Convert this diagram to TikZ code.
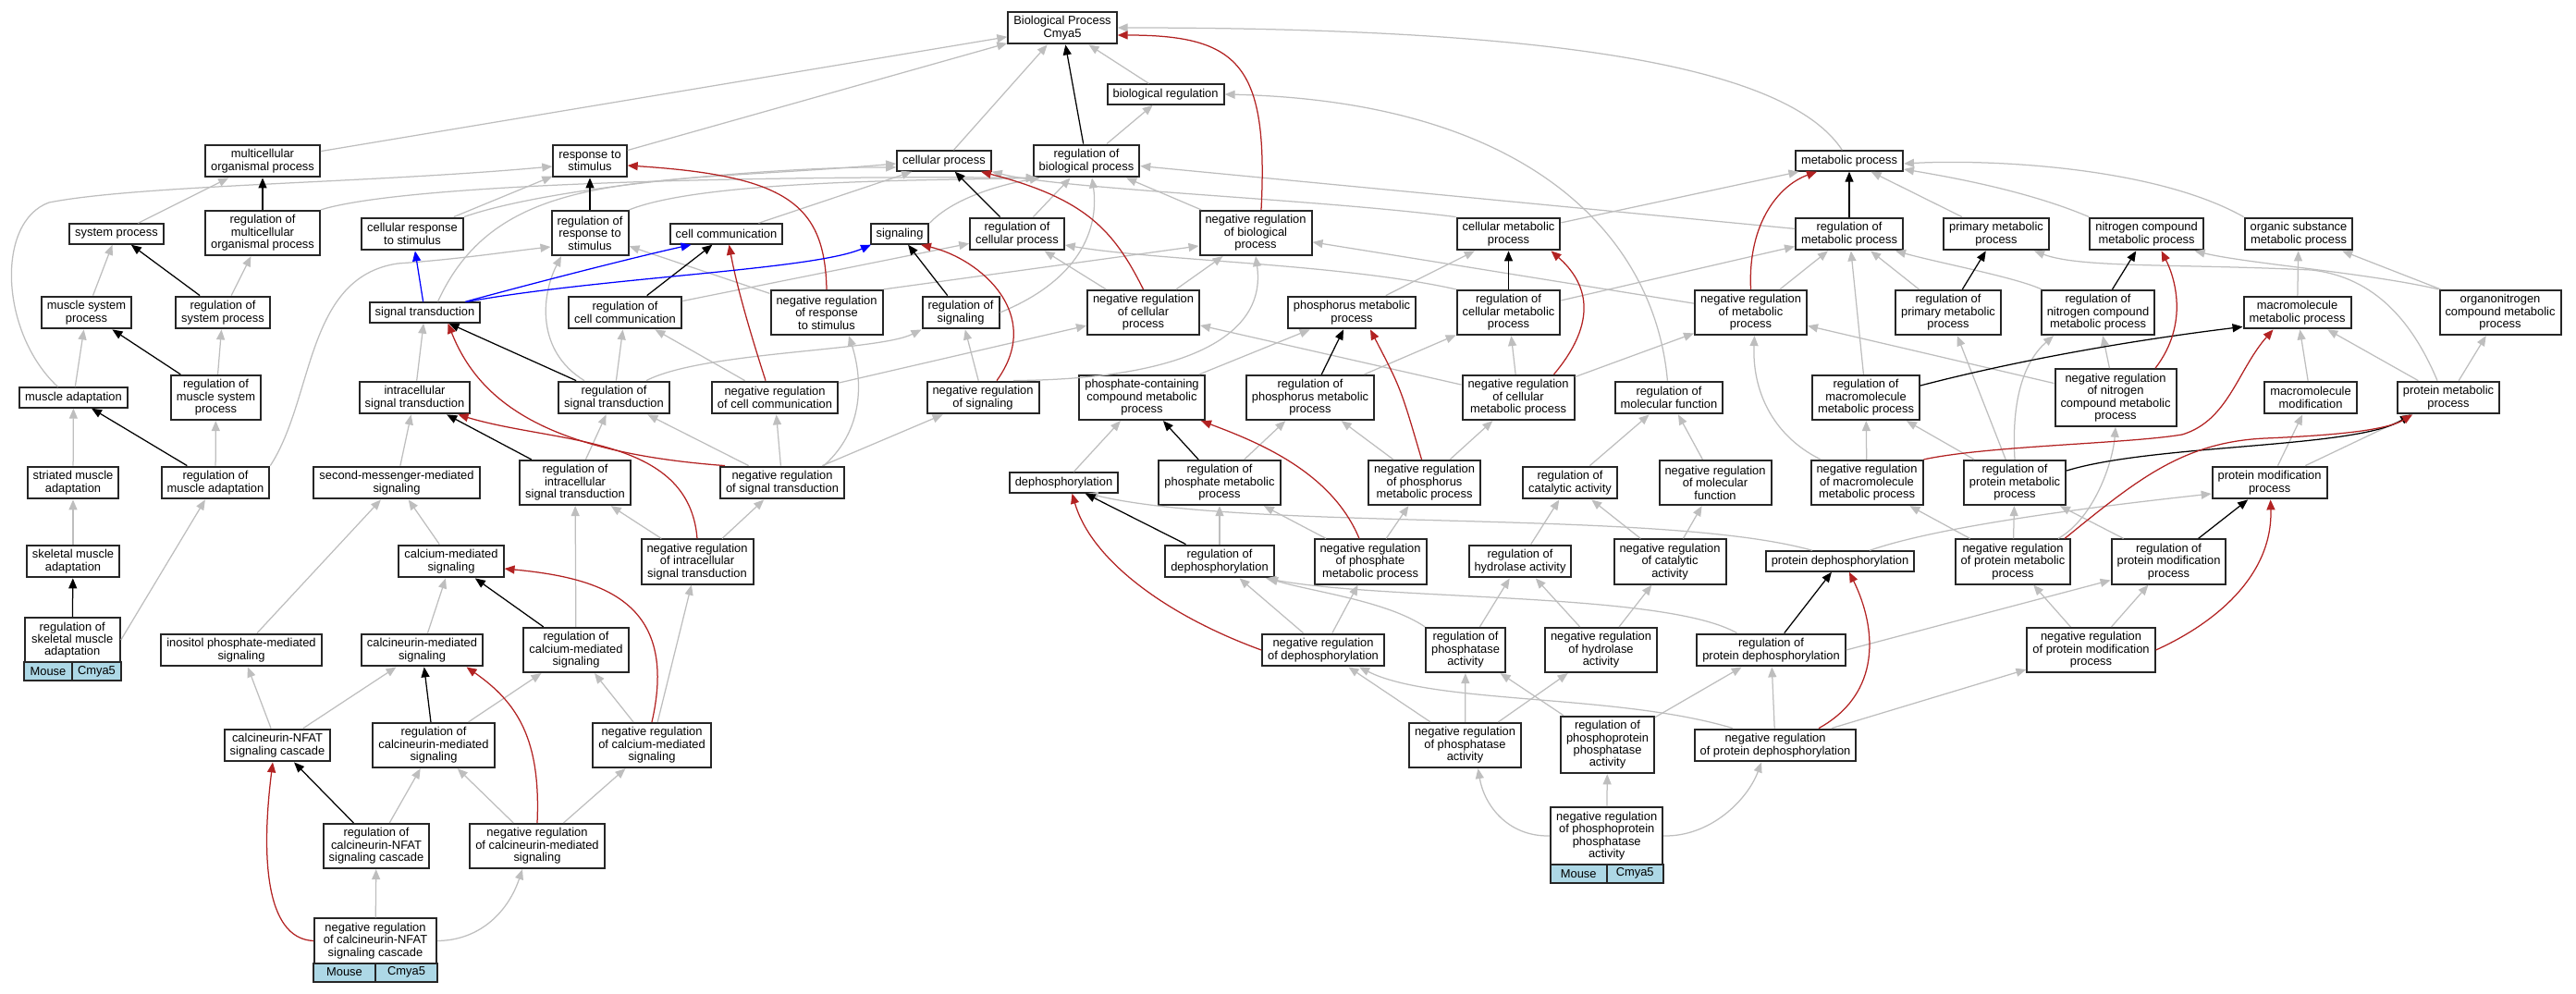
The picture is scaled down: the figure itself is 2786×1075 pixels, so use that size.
\documentclass[tikz,border=0pt]{standalone}
\usepackage{fontspec}
\setmainfont{Liberation Sans}
\usepackage{tikz}
\usetikzlibrary{arrows.meta}
\usetikzlibrary{positioning}
\definecolor{isagray}{RGB}{190,190,190}
\definecolor{negred}{RGB}{178,34,34}
\definecolor{partblue}{RGB}{0,0,255}
\definecolor{hitblue}{RGB}{173,216,230}
\newcommand\termfont{\fontsize{12.9}{13.4}\selectfont}
\tikzset{
	term/.style={draw=black!85, line width=2pt, fill=white, align=center,
		inner xsep=6pt, inner ysep=2pt, minimum height=21.4pt, font=\termfont},
	nlines/.style={minimum height=8pt+13.4pt*#1},
	hit/.style={term, fill=hitblue, minimum height=20pt, inner xsep=0pt},
	link/.style={line width=1.25pt, -{Triangle[length=11pt,width=9pt]}},
	is a/.style={link, draw=isagray},
	regulates/.style={link, draw=black},
	negatively regulates/.style={link, draw=negred},
	part of/.style={link, draw=partblue}
}

\begin{document}
\begin{tikzpicture}[x=1pt, y=-1pt]
	\useasboundingbox (0,0) rectangle (2786,1075);

	% top
	\node[term, nlines=2] (bp) at (1149,30) {Biological Process\\Cmya5};
	\node[term] (br) at (1260.6,102) {biological regulation};
	\node[term, nlines=2] (mop) at (284,174) {multicellular\\organismal process};
	\node[term, nlines=2] (rs) at (638,174) {response to\\stimulus};
	\node[term] (cp) at (1021,174) {cellular process};
	\node[term, nlines=2] (rbp) at (1175,174) {regulation of\\biological process};
	\node[term] (mp) at (2000,174) {metabolic process};

	\node[term] (sp) at (126,253) {system process};
	\node[term, nlines=3] (rmop) at (284,252) {regulation of\\multicellular\\organismal process};
	\node[term, nlines=2] (crs) at (446,253) {cellular response\\to stimulus};
	\node[term, nlines=3] (rrs) at (638,252) {regulation of\\response to\\stimulus};
	\node[term] (cc) at (785.5,253) {cell communication};
	\node[term] (sig) at (973,253) {signaling};
	\node[term, nlines=2] (rcp) at (1100,253) {regulation of\\cellular process};
	\node[term, nlines=3] (nrbp) at (1358,252) {negative regulation\\of biological\\process};
	\node[term, nlines=2] (cmp) at (1631.5,253) {cellular metabolic\\process};
	\node[term, nlines=2] (rmp) at (2000,253) {regulation of\\metabolic process};
	\node[term, nlines=2] (pmp) at (2159,253) {primary metabolic\\process};
	\node[term, nlines=2] (ncmp) at (2321.6,253) {nitrogen compound\\metabolic process};
	\node[term, nlines=2] (osmp) at (2486,253) {organic substance\\metabolic process};

	\node[term, nlines=2] (msp) at (93.5,338) {muscle system\\process};
	\node[term, nlines=2] (rsp) at (241,338) {regulation of\\system process};
	\node[term] (st) at (459.5,338) {signal transduction};
	\node[term, nlines=2] (rcc) at (676,338) {regulation of\\cell communication};
	\node[term, nlines=3] (nrrs) at (894,338) {negative regulation\\of response\\to stimulus};
	\node[term, nlines=2] (rsig) at (1039,338) {regulation of\\signaling};
	\node[term, nlines=3] (nrcp) at (1236.5,338) {negative regulation\\of cellular\\process};
	\node[term, nlines=2] (phmp) at (1462,338) {phosphorus metabolic\\process};
	\node[term, nlines=3] (rcmp) at (1631.5,338) {regulation of\\cellular metabolic\\process};
	\node[term, nlines=3] (nrmp) at (1893.5,338) {negative regulation\\of metabolic\\process};
	\node[term, nlines=3] (rprmp) at (2107,338) {regulation of\\primary metabolic\\process};
	\node[term, nlines=3] (rncmp) at (2269,338) {regulation of\\nitrogen compound\\metabolic process};
	\node[term, nlines=2] (mmp) at (2484.5,338) {macromolecule\\metabolic process};
	\node[term, nlines=3] (oncmp) at (2704,338) {organonitrogen\\compound metabolic\\process};

	\node[term] (ma) at (79.5,430) {muscle adaptation};
	\node[term, nlines=3] (rmsp) at (233.5,430) {regulation of\\muscle system\\process};
	\node[term, nlines=2] (ist) at (448.5,430) {intracellular\\signal transduction};
	\node[term, nlines=2] (rst) at (664,430) {regulation of\\signal transduction};
	\node[term, nlines=2] (nrcc) at (838,430) {negative regulation\\of cell communication};
	\node[term, nlines=2] (nrsig) at (1063,430) {negative regulation\\of signaling};
	\node[term, nlines=3] (pccmp) at (1235,430) {phosphate-containing\\compound metabolic\\process};
	\node[term, nlines=3] (rphmp) at (1417,430) {regulation of\\phosphorus metabolic\\process};
	\node[term, nlines=3] (nrcmp) at (1642,430) {negative regulation\\of cellular\\metabolic process};
	\node[term, nlines=2] (rmf) at (1805,430) {regulation of\\molecular function};
	\node[term, nlines=3] (rmmp) at (2018,430) {regulation of\\macromolecule\\metabolic process};
	\node[term, nlines=4] (nrncmp) at (2288,430) {negative regulation\\of nitrogen\\compound metabolic\\process};
	\node[term, nlines=2] (mm) at (2499,430) {macromolecule\\modification};
	\node[term, nlines=2] (prmp) at (2648,430) {protein metabolic\\process};

	\node[term, nlines=2] (sma) at (79,522) {striated muscle\\adaptation};
	\node[term, nlines=2] (rma) at (233,522) {regulation of\\muscle adaptation};
	\node[term, nlines=2] (sms) at (429,522) {second-messenger-mediated\\signaling};
	\node[term, nlines=3] (rist) at (622,522) {regulation of\\intracellular\\signal transduction};
	\node[term, nlines=2] (nrst) at (846,522) {negative regulation\\of signal transduction};
	\node[term] (deph) at (1150.5,522) {dephosphorylation};
	\node[term, nlines=3] (rpmp) at (1319,522) {regulation of\\phosphate metabolic\\process};
	\node[term, nlines=3] (nrphmp) at (1540.5,522) {negative regulation\\of phosphorus\\metabolic process};
	\node[term, nlines=2] (rca) at (1698,522) {regulation of\\catalytic activity};
	\node[term, nlines=3] (nrmf) at (1855,522) {negative regulation\\of molecular\\function};
	\node[term, nlines=3] (nrmmp) at (2019,522) {negative regulation\\of macromolecule\\metabolic process};
	\node[term, nlines=3] (rprotmp) at (2179,522) {regulation of\\protein metabolic\\process};
	\node[term, nlines=2] (pmodp) at (2454.6,522) {protein modification\\process};

	\node[term, nlines=2] (skma) at (79,607) {skeletal muscle\\adaptation};
	\node[term, nlines=2] (cms) at (488,607) {calcium-mediated\\signaling};
	\node[term, nlines=3] (nrist) at (754,607.5) {negative regulation\\of intracellular\\signal transduction};
	\node[term, nlines=2] (rdeph) at (1319,607) {regulation of\\dephosphorylation};
	\node[term, nlines=3] (nrpmp) at (1482,607.5) {negative regulation\\of phosphate\\metabolic process};
	\node[term, nlines=2] (rha) at (1644,607) {regulation of\\hydrolase activity};
	\node[term, nlines=3] (nrca) at (1806,607.5) {negative regulation\\of catalytic\\activity};
	\node[term] (pdeph) at (1990,607) {protein dephosphorylation};
	\node[term, nlines=3] (nrprotmp) at (2177,607.5) {negative regulation\\of protein metabolic\\process};
	\node[term, nlines=3] (rpmodp) at (2345.5,607.5) {regulation of\\protein modification\\process};

	\node[term, nlines=3, minimum width=103pt] (rskma) at (78.2,692.2) {regulation of\\skeletal muscle\\adaptation};
	\node[hit, minimum width=52.5pt, below left=-2pt and -1pt of rskma.south] (rskma-mouse) {Mouse};
	\node[hit, minimum width=52.5pt, below right=-2pt and -1pt of rskma.south] (rskma-gene) {Cmya5};
	\node[term, nlines=2] (ipms) at (261,703) {inositol phosphate-mediated\\signaling};
	\node[term, nlines=2] (cnms) at (456.5,703) {calcineurin-mediated\\signaling};
	\node[term, nlines=3] (rcms) at (623,703) {regulation of\\calcium-mediated\\signaling};
	\node[term, nlines=2] (nrdeph) at (1431,703) {negative regulation\\of dephosphorylation};
	\node[term, nlines=3] (rpa) at (1585,703) {regulation of\\phosphatase\\activity};
	\node[term, nlines=3] (nrha) at (1731.5,703) {negative regulation\\of hydrolase\\activity};
	\node[term, nlines=2] (rpdeph) at (1915.5,703) {regulation of\\protein dephosphorylation};
	\node[term, nlines=3] (nrpmodp) at (2261.5,703) {negative regulation\\of protein modification\\process};

	\node[term, nlines=2] (cnfat) at (300,806) {calcineurin-NFAT\\signaling cascade};
	\node[term, nlines=3] (rcnms) at (469,806) {regulation of\\calcineurin-mediated\\signaling};
	\node[term, nlines=3] (nrcms) at (705,806) {negative regulation\\of calcium-mediated\\signaling};
	\node[term, nlines=3] (nrpa) at (1584.5,806) {negative regulation\\of phosphatase\\activity};
	\node[term, nlines=4] (rppa) at (1738.5,805.5) {regulation of\\phosphoprotein\\phosphatase\\activity};
	\node[term, nlines=2] (nrpdeph) at (1920,806) {negative regulation\\of protein dephosphorylation};

	\node[term, nlines=3] (rcnfat) at (407,915) {regulation of\\calcineurin-NFAT\\signaling cascade};
	\node[term, nlines=3] (nrcnms) at (581,915) {negative regulation\\of calcineurin-mediated\\signaling};
	\node[term, nlines=4, minimum width=120pt] (nrppa) at (1737.7,904) {negative regulation\\of phosphoprotein\\phosphatase\\activity};
	\node[hit, minimum width=61pt, below left=-2pt and -1pt of nrppa.south] (nrppa-mouse) {Mouse};
	\node[hit, minimum width=61pt, below right=-2pt and -1pt of nrppa.south] (nrppa-gene) {Cmya5};

	\node[term, nlines=3, minimum width=132pt] (nrcnfat) at (406,1017.5) {negative regulation\\of calcineurin-NFAT\\signaling cascade};
	\node[hit, minimum width=67pt, below left=-2pt and -1pt of nrcnfat.south] (nrcnfat-mouse) {Mouse};
	\node[hit, minimum width=67pt, below right=-2pt and -1pt of nrcnfat.south] (nrcnfat-gene) {Cmya5};

	% is_a
	\foreach \from/\to in {mop/bp, rs/bp, cp/bp, br/bp, rbp/br, nrbp/rbp, rcp/rbp, rmp/rbp,
		sp/mop, crs/rs, cc/cp, msp/sp, rsp/rmop, ma/msp, rmsp/rsp, sma/ma, rma/rmsp, nrrs/rrs,
		ist/st, sms/ist, rist/rst, nrst/rst, rst/rcc, nrcc/rcc, rcc/rcp, nrsig/rsig, nrst/nrsig,
		nrst/nrcc, nrcc/nrcp, nrcp/rcp, nrcp/nrbp, nrcmp/nrcp, rcmp/rmp, nrmp/nrbp, nrmp/rmp,
		cmp/mp, phmp/cmp, pccmp/phmp, deph/pccmp, rpmp/rphmp, rphmp/rcmp, nrcmp/rcmp, nrcmp/nrmp,
		nrphmp/rphmp, nrphmp/nrcmp, nrpmp/rpmp, nrpmp/nrphmp, rdeph/rpmp, nrdeph/rdeph,
		nrdeph/nrpmp, nrpa/nrdeph, rca/rmf, nrmf/rmf, nrca/nrmf, rha/rca, nrca/rca, rpa/rha,
		nrha/rha, nrha/nrca, nrpa/rpa, rppa/rpa, nrpa/nrha, rppa/rpdeph, nrpdeph/rpdeph,
		nrppa/rppa, nrpdeph/nrpmodp, pmp/mp, rmmp/rmp, rprmp/rmp, nrncmp/nrmp, nrmmp/rmmp,
		rprotmp/rmmp, rprotmp/rprmp, nrncmp/rncmp, nrprotmp/nrmmp, nrprotmp/rprotmp,
		rpmodp/rprotmp, nrpmodp/nrprotmp, nrpmodp/rpmodp, mmp/osmp, oncmp/osmp, prmp/mmp,
		prmp/oncmp, mm/mmp, pmodp/mm, pmodp/prmp, skma/sma, cms/sms, ipms/sms, cnms/cms,
		rcms/rist, nrist/rist, nrist/nrst, nrcms/nrist, nrcms/rcms, rcnms/rcms, cnfat/ipms,
		cnfat/cnms, rcnfat/rcnms, nrcnms/rcnms, nrcnms/nrcms, nrcnfat/rcnfat}
		\draw[is a] (\from) -- (\to);
	\draw[is a] (rskma.east) -- (rma);
	\draw[is a] (nrrs.north east) -- ([yshift=-14pt]nrbp.west);
	\draw[is a] (rpdeph.east) -- ([yshift=-20pt]rpmodp.west);
	\draw[is a] (mp) .. controls (1935,75) and (1700,30) .. (bp.east);
	\draw[is a] (rmf) .. controls (1790,260) and (1660,110) .. (br.east);
	\draw[is a] (rsig.east) .. controls (1175,300) and (1188,240) .. ([xshift=6pt]rbp.south);
	\draw[is a] (rrs.north east) .. controls (760,195) and (1000,195) .. ([xshift=4pt]rbp.south west);
	\draw[is a] (rmop.north east) .. controls (450,195) and (900,190) .. ([xshift=4pt]rbp.south west);
	\draw[is a] (sig.north east) .. controls (1030,215) and (1080,200) .. ([xshift=8pt]rbp.south west);
	\draw[is a] ([xshift=-17pt]ma.north) .. controls (0,360) and (-5,240) .. (53,219)
		.. controls (150,200) and (400,198) .. ([yshift=-6pt]rs.west);
	\draw[is a] (crs.north east) .. controls (600,200) and (850,180) .. ([yshift=-7pt]cp.west);
	\draw[is a] ([xshift=14pt]st.north) .. controls (540,180) and (700,200) .. ([yshift=-3pt]cp.west);
	\draw[is a] (cmp.north west) .. controls (1420,215) and (1150,205) .. (cp.south east);
	\draw[is a] (rma.north east) .. controls (340,430) and (330,300) .. (430,285)
		.. controls (500,280) and (550,272) .. ([yshift=-15pt]rrs.west);
	\draw[is a] ([xshift=-32pt]rst.north) .. controls (580,380) and (585,320) .. ([xshift=-31pt]rrs.south);
	\draw[is a] (rcmp.north west) .. controls (1450,285) and (1250,282) .. ([yshift=-12pt]rcp.east);
	\draw[is a] ([xshift=35pt]rst.north) .. controls (760,380) and (950,380) .. (rsig.south west);
	\draw[is a] ([xshift=33pt]nrsig.north) .. controls (1290,410) and (1370,360) .. (nrbp.south);
	\draw[is a] ([xshift=45pt]nrst.north) .. controls (940,460) and (930,400) .. ([xshift=24pt]nrrs.south);
	\draw[is a] ([xshift=-30pt]pdeph.north) .. controls (1800,550) and (1350,575) .. ([xshift=26pt]deph.south);
	\draw[is a] ([xshift=32pt]pdeph.north) .. controls (2080,575) and (2200,555) .. ([yshift=-12pt]pmodp.west);
	\draw[is a] (rpa.north west) .. controls (1500,650) and (1420,640) .. ([xshift=52pt]rdeph.south);
	\draw[is a] ([xshift=-37pt]rpdeph.north) .. controls (1800,640) and (1500,650) .. ([xshift=50pt]rdeph.south);
	\draw[is a] ([xshift=-46pt]nrpdeph.north) .. controls (1750,750) and (1550,762) .. ([xshift=39pt]nrdeph.south);
	\draw[is a] (nrppa.west) .. controls (1630,905) and (1605,870) .. ([xshift=14pt]nrpa.south);
	\draw[is a] (nrppa.east) .. controls (1850,905) and (1890,865) .. ([xshift=-15pt]nrpdeph.south);
	\draw[is a] (ncmp.north west) .. controls (2190,205) and (2100,190) .. ([yshift=-9pt]mp.east);
	\draw[is a] (osmp.north west) .. controls (2330,180) and (2150,172) .. ([yshift=-3pt]mp.east);
	\draw[is a] ([xshift=-61pt]rncmp.north) .. controls (2180,300) and (2100,285) .. ([xshift=50pt]rmp.south);
	\draw[is a] ([xshift=-50pt]nrmmp.north) .. controls (1915,470) and (1895,420) .. ([xshift=4pt]nrmp.south);
	\draw[is a] (rprotmp.north) .. controls (2175,430) and (2190,390) .. ([xshift=-48pt]rncmp.south);
	\draw[is a] ([xshift=49pt]nrprotmp.north) .. controls (2265,560) and (2285,500) .. (nrncmp.south);
	\draw[is a] (oncmp.north west) .. controls (2560,295) and (2430,285) .. ([xshift=52pt]ncmp.south);
	\draw[is a] ([xshift=-12pt]prmp.north) .. controls (2610,350) and (2570,300) .. (2500,292)
		.. controls (2350,285) and (2250,290) .. ([xshift=41pt]pmp.south);
	\draw[is a] (nrcnfat.east) .. controls (520,1017) and (550,985) .. ([xshift=-16pt]nrcnms.south);

	% regulates
	\foreach \from/\to in {rbp/bp, rmop/mop, rrs/rs, rsp/sp, rmsp/msp, rma/ma, rskma/skma,
		rst/st, rist/ist, rcc/cc, rsig/sig, rcp/cp, rcms/cms, rcnms/cnms, rcnfat/cnfat, rmp/mp,
		rcmp/cmp, rphmp/phmp, rpmp/pccmp, rdeph/deph, rpdeph/pdeph, rprmp/pmp, rncmp/ncmp,
		rpmodp/pmodp}
		\draw[regulates] (\from) -- (\to);
	\draw[regulates] ([yshift=13pt]rprotmp.east) .. controls (2330,480) and (2550,485) .. ([xshift=-41pt]prmp.south);
	\draw[regulates] ([yshift=13pt]rmmp.east) .. controls (2200,385) and (2330,365) .. ([yshift=3pt]mmp.south west);

	% negatively regulates
	\draw[negatively regulates] ([xshift=6pt]nrbp.north) .. controls (1372,70) and (1340,38) .. ([yshift=-8pt]bp.east);
	\draw[negatively regulates] (nrrs.north) .. controls (892,220) and (850,190) .. ([yshift=-5pt]rs.east);
	\draw[negatively regulates] (nrcp.north) .. controls (1205,250) and (1175,215) .. ([xshift=40pt]cp.south);
	\draw[negatively regulates] ([xshift=-10pt]nrcc.north) .. controls (805,340) and (795,300) .. ([xshift=3pt]cc.south);
	\draw[negatively regulates] ([xshift=15pt]nrsig.north) .. controls (1130,340) and (1060,280) .. ([xshift=23pt]sig.south);
	\draw[negatively regulates] ([xshift=-62pt]nrst.north) .. controls (600,490) and (520,440) .. ([xshift=25pt]st.south);
	\draw[negatively regulates] (nrist.north) .. controls (745,470) and (600,480) .. ([xshift=47pt]ist.south);
	\draw[negatively regulates] (nrcms.north) .. controls (735,650) and (650,625) .. ([yshift=-8pt]cms.east);
	\draw[negatively regulates] (nrcnms.north) .. controls (585,800) and (560,760) .. ([xshift=48pt]cnms.south);
	\draw[negatively regulates] (nrcnfat.west) .. controls (285,1015) and (283,920) .. ([xshift=-5pt]cnfat.south);
	\draw[negatively regulates] (nrmp.north) .. controls (1890,240) and (1925,200) .. ([xshift=-35pt]mp.south);
	\draw[negatively regulates] ([xshift=-23pt]nrcmp.north east) .. controls (1735,340) and (1710,300) .. ([xshift=46pt]cmp.south);
	\draw[negatively regulates] ([xshift=-3pt]nrphmp.north) .. controls (1515,420) .. ([xshift=20pt]phmp.south);
	\draw[negatively regulates] ([xshift=-12pt]nrpmp.north) .. controls (1440,510) and (1360,478) .. ([xshift=64pt]pccmp.south);
	\draw[negatively regulates] (nrdeph.west) .. controls (1260,665) and (1180,605) .. ([xshift=9pt]deph.south);
	\draw[negatively regulates] ([xshift=47pt]nrpdeph.north) .. controls (2035,750) and (2030,680) .. ([xshift=10pt]pdeph.south);
	\draw[negatively regulates] ([xshift=43pt]nrncmp.north) .. controls (2368,350) and (2352,300) .. ([xshift=16pt]ncmp.south);
	\draw[negatively regulates] (nrmmp.north east) .. controls (2150,482) and (2300,480) .. (2360,470)
		.. controls (2410,455) and (2420,400) .. ([xshift=-26pt]mmp.south);
	\draw[negatively regulates] ([xshift=56pt]nrprotmp.north) .. controls (2310,520) and (2360,478) .. (2450,474)
		.. controls (2520,471) and (2580,466) .. ([xshift=-39pt]prmp.south);
	\draw[negatively regulates] (nrpmodp.east) .. controls (2400,672) and (2458,620) .. ([xshift=1pt]pmodp.south);

	% part of
	\draw[part of] (st) -- (crs);
	\draw[part of] ([xshift=-17pt]st.north east) .. controls (600,300) and (700,275) .. ([xshift=-38pt]cc.south);
	\draw[part of] ([xshift=-15pt]st.north east) .. controls (650,300) and (880,292) .. ([xshift=-31pt]sig.south);
\end{tikzpicture}
\end{document}
